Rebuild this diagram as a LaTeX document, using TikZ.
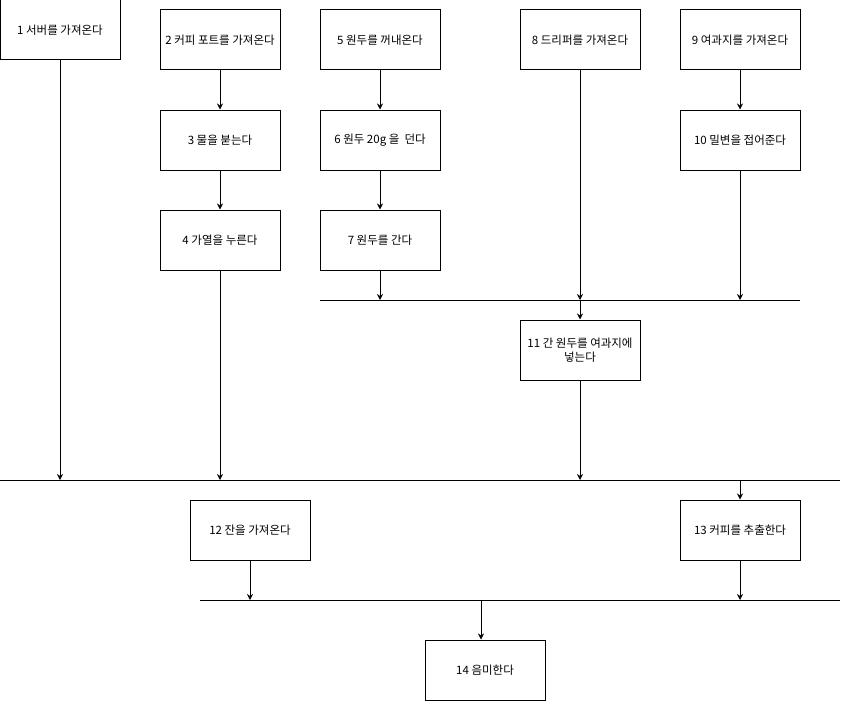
\documentclass[tikz,border=0pt]{standalone}
\usepackage{fontspec}
\setmainfont{Noto Sans CJK KR}
\usetikzlibrary{arrows.meta}

\tikzset{
  stepbox/.style={draw, line width=1pt, rectangle, minimum width=120pt, minimum height=60pt, inner sep=2pt, align=center, font=\fontsize{11.5}{14}\selectfont},
  flow/.style={line width=0.8pt, -{Stealth[length=6pt,width=6pt]}},
  bar/.style={line width=0.8pt}
}

\begin{document}
\begin{tikzpicture}[x=1pt,y=-1pt]
    \useasboundingbox (0,0) rectangle (843,701);

    \node[stepbox] at (60, 30) (serv) {1 서버를 가져온다};
    \node[stepbox] at (220, 40) (pot) {2 커피 포트를 가져온다};
    \node[stepbox] at (220, 140) (water) {3 물을 붇는다};
    \node[stepbox] at (220, 240) (heat) {4 가열을 누른다};
    \node[stepbox] at (380, 40) (bean) {5 원두를 꺼내온다};
    \node[stepbox] at (380, 140) (weigh) {6 원두 20g 을 \ 던다};
    \node[stepbox] at (380, 240) (grind) {7 원두를 간다};
    \node[stepbox] at (580, 40) (drip) {8 드리퍼를 가져온다};
    \node[stepbox] at (740, 40) (filt) {9 여과지를 가져온다};
    \node[stepbox] at (740, 140) (fold) {10 밀변을 접어준다};
    \node[stepbox] at (580, 350) (fill) {11 간 원두를 여과지에\\넣는다};
    \node[stepbox] at (250, 530) (cup) {12 잔을 가져온다};
    \node[stepbox] at (740, 530) (brew) {13 커피를 추출한다};
    \node[stepbox] at (485, 670) (taste) {14 음미한다};

    % sync bars
    \coordinate (barAl) at (320, 300);
    \coordinate (barAr) at (800, 300);
    \coordinate (barBl) at (0, 480);
    \coordinate (barBr) at (840, 480);
    \coordinate (barCl) at (200, 600);
    \coordinate (barCr) at (840, 600);
    \coordinate (barCout) at (481, 600);

    \draw[bar] (barAl) -- (barAr);
    \draw[bar] (barBl) -- (barBr);
    \draw[bar] (barCl) -- (barCr);

    \draw[flow] (pot) -- (water);
    \draw[flow] (water) -- (heat);
    \draw[flow] (bean) -- (weigh);
    \draw[flow] (weigh) -- (grind);
    \draw[flow] (filt) -- (fold);

    \draw[flow] (grind.south) -- (grind.south |- barAl);
    \draw[flow] (drip.south) -- (drip.south |- barAl);
    \draw[flow] (fold.south) -- (fold.south |- barAl);
    \draw[flow] (fill.north |- barAl) -- (fill.north);

    \draw[flow] (serv.south) -- (serv.south |- barBl);
    \draw[flow] (heat.south) -- (heat.south |- barBl);
    \draw[flow] (fill.south) -- (fill.south |- barBl);
    \draw[flow] (brew.north |- barBl) -- (brew.north);

    \draw[flow] (cup.south) -- (cup.south |- barCl);
    \draw[flow] (brew.south) -- (brew.south |- barCl);
    \draw[flow] (barCout) -- (barCout |- taste.north);
\end{tikzpicture}
\end{document}
